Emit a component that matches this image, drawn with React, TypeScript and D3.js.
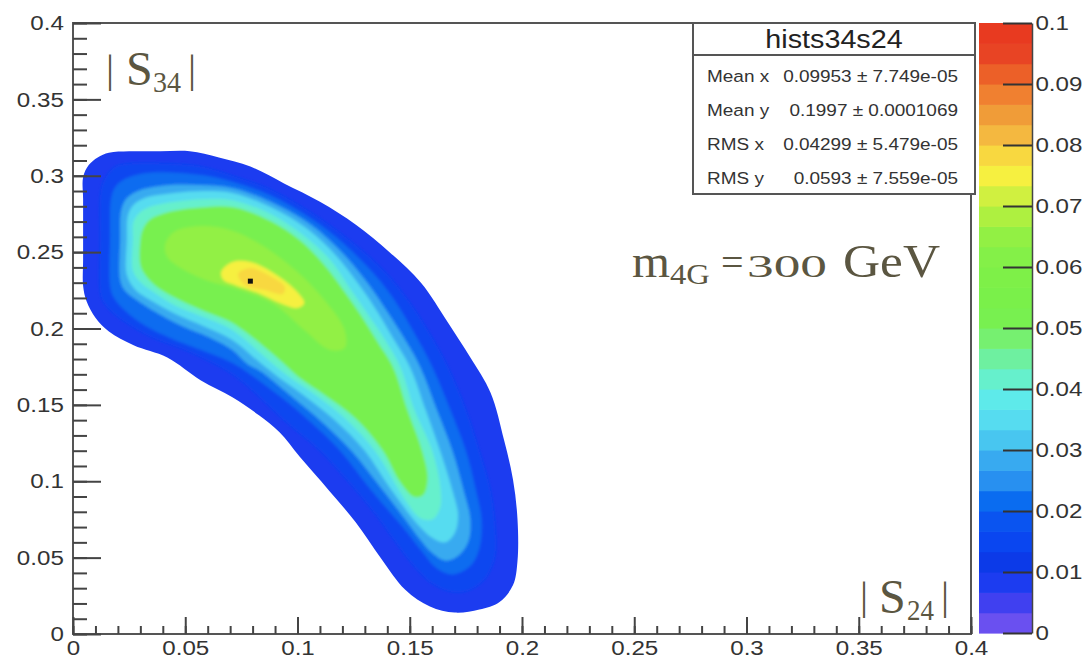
import React, { useEffect, useRef } from 'react';
import * as d3 from 'd3';

const w = 1085;
const h = 661;

// axis ticks
const xTicks = [0, 0.05, 0.1, 0.15, 0.2, 0.25, 0.3, 0.35, 0.4];
const yTicks = [0, 0.05, 0.1, 0.15, 0.2, 0.25, 0.3, 0.35, 0.4];
const zTicks = [0, 0.01, 0.02, 0.03, 0.04, 0.05, 0.06, 0.07, 0.08, 0.09, 0.1];

// palette: one colour per contour band, 30 bands over 0 .. 0.1
const bandColors = [
  '#6a50f0', '#4040f0', '#1c3cf0', '#0c3ae8', '#0a46f0', '#0a54f0',
  '#0a6cf0', '#2890f0', '#38aaf0', '#48c6f0', '#56dcf0', '#5eeaea',
  '#66f0cc', '#6ef0a0', '#76f070', '#78f050', '#7af04a', '#7ef048',
  '#84f048', '#92f044', '#aef040', '#d0f040', '#f6f040', '#f8d840',
  '#f4b840', '#f09c38', '#f08030', '#ec6028', '#e84424', '#e83a20',
];

// contour rings, [|S24|, |S34|], outermost first
const ringE = [
  [0.0045, 0.228], [0.0045, 0.245], [0.0045, 0.265], [0.0045, 0.285], [0.0045, 0.299],
  [0.007, 0.307], [0.011, 0.312],
  [0.016, 0.315], [0.025, 0.316], [0.039, 0.316], [0.052, 0.316], [0.065, 0.312],
  [0.079, 0.306], [0.094, 0.295], [0.11, 0.283], [0.126, 0.268], [0.141, 0.25],
  [0.155, 0.23], [0.167, 0.204], [0.177, 0.181], [0.186, 0.158], [0.192, 0.127],
  [0.196, 0.101], [0.198, 0.075], [0.198, 0.048], [0.196, 0.032], [0.19, 0.021],
  [0.181, 0.016], [0.17, 0.014], [0.159, 0.018], [0.148, 0.029], [0.137, 0.05],
  [0.126, 0.073], [0.114, 0.094], [0.101, 0.116], [0.092, 0.132], [0.083, 0.143],
  [0.071, 0.155], [0.057, 0.166], [0.042, 0.181], [0.027, 0.189], [0.016, 0.198],
  [0.01, 0.207], [0.006, 0.218],
];
const ringA = [
  [0.012, 0.225], [0.012, 0.258], [0.0125, 0.291], [0.015, 0.3], [0.019, 0.306],
  [0.025, 0.308], [0.043, 0.308], [0.057, 0.306], [0.071, 0.3], [0.088, 0.291],
  [0.106, 0.276], [0.123, 0.258], [0.139, 0.237], [0.15, 0.217], [0.16, 0.194],
  [0.167, 0.175], [0.175, 0.147], [0.181, 0.12], [0.186, 0.094], [0.188, 0.071],
  [0.188, 0.051], [0.184, 0.037], [0.177, 0.029], [0.169, 0.0275], [0.16, 0.033],
  [0.151, 0.046], [0.143, 0.0615], [0.136, 0.076], [0.124, 0.0975], [0.11, 0.12],
  [0.094, 0.14], [0.081, 0.158], [0.071, 0.17], [0.06, 0.179], [0.048, 0.187],
  [0.034, 0.195], [0.0245, 0.203], [0.0165, 0.212], [0.013, 0.219],
];
const ringB = [
  [0.0165, 0.2285], [0.0165, 0.258], [0.017, 0.2854], [0.019, 0.293], [0.024, 0.2985],
  [0.034, 0.302], [0.057, 0.3005], [0.071, 0.296], [0.088, 0.287], [0.106, 0.272],
  [0.121, 0.255], [0.1345, 0.235], [0.143, 0.219], [0.152, 0.197], [0.16, 0.175],
  [0.168, 0.147], [0.175, 0.12], [0.1795, 0.094], [0.182, 0.075], [0.181, 0.056],
  [0.177, 0.0445], [0.169, 0.039], [0.162, 0.043], [0.155, 0.055], [0.148, 0.068],
  [0.132, 0.0956], [0.119, 0.12], [0.101, 0.145], [0.0855, 0.163], [0.071, 0.1774],
  [0.057, 0.186], [0.043, 0.194], [0.032, 0.202], [0.023, 0.212], [0.018, 0.2206],
];
const ringC = [
  [0.021, 0.2317], [0.021, 0.258], [0.0215, 0.2776], [0.024, 0.2854], [0.03, 0.2907],
  [0.043, 0.294], [0.057, 0.294], [0.071, 0.292], [0.088, 0.283], [0.106, 0.268],
  [0.119, 0.251], [0.13, 0.232], [0.138, 0.2154], [0.1465, 0.196], [0.1546, 0.175],
  [0.162, 0.147], [0.169, 0.12], [0.174, 0.094], [0.177, 0.075], [0.176, 0.06],
  [0.1715, 0.051], [0.166, 0.048], [0.16, 0.053], [0.154, 0.063], [0.148, 0.075],
  [0.137, 0.096], [0.124, 0.12], [0.11, 0.14], [0.097, 0.156], [0.084, 0.1715],
  [0.0775, 0.177], [0.071, 0.186], [0.061, 0.194], [0.048, 0.202], [0.0365, 0.211],
  [0.028, 0.219], [0.023, 0.225],
];
const ringD = [
  [0.024, 0.235], [0.024, 0.258], [0.0245, 0.274], [0.027, 0.281], [0.032, 0.2854],
  [0.045, 0.2887], [0.059, 0.29], [0.071, 0.2887], [0.088, 0.2795], [0.105, 0.2645],
  [0.117, 0.248], [0.1265, 0.2304], [0.1345, 0.2134], [0.1425, 0.1938], [0.15, 0.175],
  [0.157, 0.147], [0.1635, 0.12], [0.169, 0.094], [0.1715, 0.078], [0.17, 0.066],
  [0.1657, 0.06], [0.16, 0.063], [0.154, 0.071], [0.141, 0.096], [0.13, 0.12],
  [0.1167, 0.14], [0.103, 0.156], [0.092, 0.1676], [0.083, 0.178], [0.071, 0.1925],
  [0.059, 0.201], [0.045, 0.21], [0.034, 0.219], [0.028, 0.225],
];
const ringF = [
  [0.0267, 0.238], [0.0267, 0.258], [0.027, 0.27], [0.03, 0.2763], [0.035, 0.28],
  [0.048, 0.2835], [0.061, 0.2848], [0.071, 0.284], [0.088, 0.275], [0.103, 0.2606],
  [0.1145, 0.245], [0.123, 0.227], [0.131, 0.21], [0.139, 0.1925], [0.1457, 0.175],
  [0.152, 0.147], [0.16, 0.12], [0.1635, 0.0975], [0.1635, 0.0825], [0.16, 0.075],
  [0.1546, 0.076], [0.148, 0.0877], [0.1345, 0.12], [0.121, 0.1414], [0.108, 0.1565],
  [0.097, 0.1676], [0.087, 0.1794], [0.071, 0.199], [0.059, 0.207], [0.045, 0.2154],
  [0.0365, 0.2232], [0.03, 0.2304],
];
const ringG = [
  [0.03, 0.2416], [0.03, 0.258], [0.031, 0.2645], [0.034, 0.271], [0.041, 0.2756],
  [0.054, 0.2789], [0.071, 0.2795], [0.088, 0.2704], [0.101, 0.258], [0.112, 0.2416],
  [0.121, 0.224], [0.129, 0.207], [0.136, 0.1905], [0.1425, 0.175], [0.149, 0.1466],
  [0.1555, 0.12], [0.158, 0.102], [0.156, 0.091], [0.152, 0.0897], [0.1457, 0.0995],
  [0.138, 0.12], [0.1256, 0.1414], [0.112, 0.1565], [0.101, 0.1676], [0.092, 0.1794],
  [0.071, 0.2036], [0.059, 0.211], [0.047, 0.219], [0.038, 0.2265], [0.0325, 0.2344],
];
const ringJ = [
  [0.041, 0.2547], [0.045, 0.2632], [0.057, 0.2671], [0.07, 0.2645], [0.084, 0.2547],
  [0.099, 0.2383], [0.112, 0.2187], [0.121, 0.199], [0.121, 0.1872], [0.1145, 0.1859],
  [0.103, 0.199], [0.09, 0.2154], [0.0744, 0.2252], [0.059, 0.2317], [0.048, 0.2396],
  [0.042, 0.2468],
];
const ringK = [
  [0.066, 0.237], [0.071, 0.2435], [0.079, 0.2435], [0.0886, 0.237], [0.099, 0.2252],
  [0.103, 0.2167], [0.1, 0.2134], [0.092, 0.2167], [0.0824, 0.2232], [0.072, 0.2285],
  [0.067, 0.2317],
];
const ringM = [
  [0.0735, 0.2357], [0.079, 0.2396], [0.087, 0.235], [0.0944, 0.2272], [0.0935, 0.2226],
  [0.0855, 0.2252], [0.0766, 0.2285],
];
const ringLevels = [0.008, 0.014, 0.021, 0.027, 0.034, 0.041, 0.051, 0.065, 0.074, 0.078];

const peak = [0.079, 0.231];

const statsTitle = 'hists34s24';
const statsLabels = ['Mean x', 'Mean y', 'RMS x', 'RMS y'];
const statsValues = ['0.09953 ± 7.749e-05', '0.1997 ± 0.0001069', '0.04299 ± 5.479e-05', '0.0593 ± 7.559e-05'];

const sans = '"Liberation Sans", Arial, sans-serif';
const serif = '"Liberation Serif", "DejaVu Serif", serif';
const ink = '#333';
const olive = '#5b5641';

export default function App() {
  const ref = useRef<SVGSVGElement>(null);

  useEffect(() => {
    const svg = d3.select(ref.current);
    svg.selectAll('*').remove();

    const x = d3.scaleLinear().domain([0, 0.4]).range([73, 971]);
    const y = d3.scaleLinear().domain([0, 0.4]).range([634, 23]);
    const z = d3.scaleLinear().domain([0, 0.1]).range([633, 23]);
    const band = (v: number) => bandColors[Math.min(bandColors.length - 1, Math.floor((v / 0.1) * bandColors.length))];
    const fmt = d3.format('~g');

    const defs = svg.append('defs');
    defs.append('filter').attr('id', 'soft')
      .attr('x', '-20%').attr('y', '-20%').attr('width', '140%').attr('height', '140%')
      .append('feGaussianBlur').attr('stdDeviation', 1.8);

    // filled contours
    const line = d3.line<number[]>()
      .x(d => x(d[0]))
      .y(d => y(d[1]))
      .curve(d3.curveCatmullRomClosed.alpha(0.5));
    const rings = [ringE, ringA, ringB, ringC, ringD, ringF, ringG, ringJ, ringK, ringM];
    const cont = svg.append('g');
    cont.append('path').datum(ringE).attr('d', line).attr('fill', band(ringLevels[0]));
    cont.append('g').attr('filter', 'url(#soft)')
      .selectAll('path')
      .data(rings.slice(1))
      .join('path')
      .attr('d', line)
      .attr('fill', (d, i) => band(ringLevels[i + 1]));
    cont.append('rect')
      .attr('x', x(peak[0]) - 2.5).attr('y', y(peak[1]) - 2.5)
      .attr('width', 5).attr('height', 5).attr('fill', '#111');

    // frame
    svg.append('rect')
      .attr('x', x(0)).attr('y', y(0.4))
      .attr('width', x(0.4) - x(0)).attr('height', y(0) - y(0.4))
      .attr('fill', 'none').attr('stroke', '#555').attr('stroke-width', 2);

    const yMinor = d3.range(0, 0.4001, 0.01);
    const xMinor = d3.range(0, 0.4001, 0.01);
    const clean = (g: any) => {
      g.select('.domain').remove();
      g.selectAll('line').attr('stroke', '#444').attr('stroke-width', 2);
    };
    const styleText = (g: any) => {
      g.selectAll('text')
        .attr('fill', ink)
        .style('font-family', sans)
        .style('font-size', '21px')
        .attr('transform', 'scale(1.15,1)');
    };

    svg.append('g').attr('transform', `translate(${x(0)},0)`)
      .call(d3.axisRight(y).tickValues(yMinor).tickSize(14).tickFormat(() => ''))
      .call(clean);
    svg.append('g').attr('transform', `translate(${x(0)},0)`)
      .call(d3.axisRight(y).tickValues(yTicks).tickSize(28).tickFormat(() => ''))
      .call(clean);
    svg.append('g').attr('transform', `translate(0,${y(0)})`)
      .call(d3.axisTop(x).tickValues(xMinor).tickSize(8).tickFormat(() => ''))
      .call(clean);
    svg.append('g').attr('transform', `translate(0,${y(0)})`)
      .call(d3.axisTop(x).tickValues(xTicks).tickSize(17).tickFormat(() => ''))
      .call(clean);

    svg.append('g').attr('transform', `translate(${x(0)},0)`)
      .call(d3.axisLeft(y).tickValues(yTicks).tickSize(0).tickPadding(8).tickFormat(d => fmt(d as number)))
      .call(g => g.select('.domain').remove())
      .call(styleText);
    svg.append('g').attr('transform', `translate(0,${y(0)})`)
      .call(d3.axisBottom(x).tickValues(xTicks).tickSize(0).tickPadding(6).tickFormat(d => fmt(d as number)))
      .call(g => g.select('.domain').remove())
      .call(styleText);

    // palette
    const pal = svg.append('g');
    pal.selectAll('rect')
      .data(bandColors)
      .join('rect')
      .attr('x', 979)
      .attr('width', 53)
      .attr('y', (d, i) => z((i + 1) / bandColors.length * 0.1))
      .attr('height', (d, i) => z(i / bandColors.length * 0.1) - z((i + 1) / bandColors.length * 0.1) + 0.6)
      .attr('fill', d => d);
    svg.append('g').attr('transform', 'translate(1032,0)')
      .call(d3.axisLeft(z).tickValues(zTicks).tickSize(29).tickSizeOuter(0).tickFormat(() => ''))
      .call(g => g.selectAll('line').attr('stroke', '#333').attr('stroke-width', 2))
      .call(g => g.select('.domain').attr('stroke', '#444').attr('stroke-width', 1.5));
    svg.append('g').attr('transform', 'translate(1032,0)')
      .call(d3.axisRight(z).tickValues(zTicks).tickSize(0).tickPadding(3).tickFormat(d => fmt(d as number)))
      .call(g => g.select('.domain').remove())
      .call(styleText);

    // stats box
    const st = svg.append('g');
    st.append('rect').attr('x', 693).attr('y', 23).attr('width', 282).attr('height', 171)
      .attr('fill', '#fff').attr('stroke', '#555').attr('stroke-width', 2);
    st.append('line').attr('x1', 693).attr('x2', 975).attr('y1', 55).attr('y2', 55)
      .attr('stroke', '#555').attr('stroke-width', 2);
    st.append('text')
      .attr('transform', 'translate(834,48) scale(1.15,1)')
      .attr('text-anchor', 'middle')
      .style('font-family', sans).style('font-size', '25px').attr('fill', '#222')
      .text(statsTitle);
    statsLabels.forEach((lab, i) => {
      const by = 82 + i * 34;
      st.append('text')
        .attr('transform', `translate(707,${by}) scale(1.15,1)`)
        .style('font-family', sans).style('font-size', '16.5px').attr('fill', ink)
        .text(lab);
      st.append('text')
        .attr('transform', `translate(958,${by}) scale(1.15,1)`)
        .attr('text-anchor', 'end')
        .style('font-family', sans).style('font-size', '16.5px').attr('fill', ink)
        .text(statsValues[i]);
    });

    // annotations
    const ann = svg.append('g').attr('fill', olive).style('font-family', serif);
    const put = (px: number, py: number, size: number, str: string, len?: number) => {
      const t = ann.append('text').attr('x', px).attr('y', py).style('font-size', size + 'px').text(str);
      if (len) t.attr('textLength', len).attr('lengthAdjust', 'spacingAndGlyphs');
    };
    put(106, 82, 40, '|');
    put(126, 85, 48, 'S');
    put(153, 92, 30, '34', 28);
    put(188, 82, 40, '|');

    put(860, 609, 40, '|');
    put(879, 613, 48, 'S');
    put(907, 620, 30, '24', 27);
    put(941, 609, 40, '|');

    put(632, 277, 46, 'm', 38);
    put(670, 284, 30, '4G', 40);
    put(721, 276, 40, '=');
    put(747, 277, 32, '300', 80);
    put(843, 277, 46, 'GeV', 97);
  }, []);

  return (
    <svg
      ref={ref}
      width={w}
      height={h}
      style={{ position: 'absolute', left: 0, top: 0, background: '#fff' }}
    />
  );
}
